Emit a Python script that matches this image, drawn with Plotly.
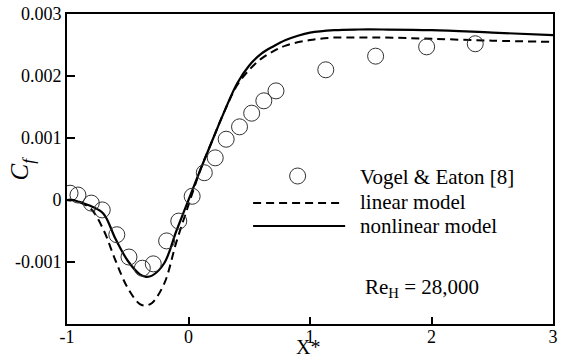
import plotly.graph_objects as go

# Experimental data: Vogel & Eaton [8]
exp_x = [-0.975, -0.91, -0.80, -0.71, -0.59, -0.49, -0.38, -0.29, -0.18, -0.08, 0.03,
         0.13, 0.22, 0.31, 0.42, 0.52, 0.62, 0.72, 1.13, 1.54, 1.96, 2.36]
exp_y = [0.00011, 0.00008, -0.00005, -0.00016, -0.00056, -0.00092, -0.0011, -0.00103,
         -0.00066, -0.00034, 0.00006, 0.00044, 0.00068, 0.00098, 0.00118, 0.0014,
         0.0016, 0.00176, 0.0021, 0.00232, 0.00247, 0.00252]

# Linear model (dashed)
lin_x = [-1, -0.95, -0.9, -0.8, -0.7, -0.6, -0.5, -0.4, -0.35, -0.3, -0.2, -0.1, 0,
         0.1, 0.2, 0.3, 0.4, 0.5, 0.6, 0.7, 0.8, 1.0, 1.2, 1.4, 1.6, 2.0, 2.5, 3.0]
lin_y = [0, 0.0, -0.03, -0.15, -0.48, -0.98, -1.42, -1.68, -1.70, -1.66, -1.35, -0.68, -0.08,
         0.5, 0.98, 1.45, 1.85, 2.1, 2.28, 2.4, 2.49, 2.58, 2.62, 2.62, 2.62, 2.6, 2.57, 2.55]
lin_y = [v * 1e-3 for v in lin_y]

# Nonlinear model (solid)
non_x = [-1, -0.95, -0.9, -0.8, -0.7, -0.6, -0.5, -0.4, -0.35, -0.3, -0.2, -0.1, 0,
         0.1, 0.2, 0.3, 0.4, 0.5, 0.6, 0.7, 0.8, 0.9, 1.0, 1.2, 1.4, 1.6, 2.0, 2.5, 3.0]
non_y = [0, 0.0, -0.03, -0.1, -0.22, -0.63, -0.98, -1.2, -1.24, -1.22, -1.02, -0.5, 0.0,
         0.5, 0.98, 1.45, 1.88, 2.17, 2.36, 2.48, 2.58, 2.65, 2.70, 2.74, 2.75, 2.75, 2.74, 2.70, 2.66]
non_y = [v * 1e-3 for v in non_y]

y_ticks = [0.003, 0.002, 0.001, 0, -0.001]
y_tick_text = ["0.003", "0.002", "0.001", "0", "-0.001"]
x_ticks = [-1, 0, 1, 2, 3]
x_tick_text = ["-1", "0", "1", "2", "3"]

FONT = "Liberation Serif"

fig = go.Figure()
fig.add_trace(go.Scatter(x=lin_x, y=lin_y, mode="lines", line=dict(color="black", width=2, dash="8px,5px", shape="spline"),
                         showlegend=False, hoverinfo="skip"))
fig.add_trace(go.Scatter(x=non_x, y=non_y, mode="lines", line=dict(color="black", width=2.2, shape="spline"),
                         showlegend=False, hoverinfo="skip"))
fig.add_trace(go.Scatter(x=exp_x, y=exp_y, mode="markers",
                         marker=dict(symbol="circle-open", size=16, color="#333", line=dict(width=1, color="#333")),
                         showlegend=False, hoverinfo="skip"))

# Plot-area pixel geometry -> paper conversion helpers
L, R, T, B = 67, 558, 14, 324
def px(x):
    return (x - L) / (R - L)
def py(y):
    return (B - y) / (B - T)

shapes = [
    dict(type="circle", xref="paper", yref="paper", xsizemode="pixel", ysizemode="pixel",
         xanchor=px(300), yanchor=py(176), x0=-8, x1=8, y0=-8, y1=8,
         line=dict(color="#333", width=1)),
    dict(type="line", xref="paper", yref="paper", x0=px(255), x1=px(346), y0=py(203), y1=py(203),
         line=dict(color="black", width=2, dash="8px,5px")),
    dict(type="line", xref="paper", yref="paper", x0=px(255), x1=px(348), y0=py(226), y1=py(226),
         line=dict(color="black", width=2)),
]

ann_font = dict(family=FONT, size=21, color="black")
annotations = [
    dict(text="Vogel &amp; Eaton [8]", xref="paper", yref="paper", x=px(361), y=py(177),
         xanchor="left", yanchor="middle", showarrow=False, font=ann_font),
    dict(text="linear model", xref="paper", yref="paper", x=px(361), y=py(202),
         xanchor="left", yanchor="middle", showarrow=False, font=ann_font),
    dict(text="nonlinear model", xref="paper", yref="paper", x=px(361), y=py(226),
         xanchor="left", yanchor="middle", showarrow=False, font=ann_font),
    dict(text="Re<sub>H</sub> = 28,000", xref="paper", yref="paper", x=px(366), y=py(288),
         xanchor="left", yanchor="middle", showarrow=False, font=ann_font),
    dict(text="<i>C<sub>f</sub></i>", xref="paper", yref="paper", x=px(21), y=py(168),
         xanchor="center", yanchor="middle", showarrow=False, textangle=-90,
         font=dict(family=FONT, size=25, color="black")),
    dict(text="X*", xref="paper", yref="paper", x=px(310), y=py(347.5),
         xanchor="center", yanchor="middle", showarrow=False,
         font=dict(family=FONT, size=20, color="black")),
]

fig.update_layout(
    width=562, height=358,
    margin=dict(l=L, r=562 - R, t=T, b=358 - B),
    paper_bgcolor="white", plot_bgcolor="white",
    font=dict(family=FONT, size=18, color="black"),
    shapes=shapes, annotations=annotations,
    showlegend=False,
)
fig.update_xaxes(range=[-1, 3], tickvals=x_ticks, ticktext=x_tick_text, ticks="inside", ticklen=7,
                 tickwidth=1.5, tickcolor="black", showline=True, linewidth=2, linecolor="black",
                 mirror=True, showgrid=False, zeroline=False, tickfont=dict(family=FONT, size=18),
                 ticklabelstandoff=-5)
fig.update_yaxes(range=[-0.002, 0.003], tickvals=y_ticks, ticktext=y_tick_text, ticks="inside", ticklen=8,
                 tickwidth=1.5, tickcolor="black", showline=True, linewidth=2, linecolor="black",
                 mirror=True, showgrid=False, zeroline=False, tickfont=dict(family=FONT, size=18))

fig.write_html("out.html")
